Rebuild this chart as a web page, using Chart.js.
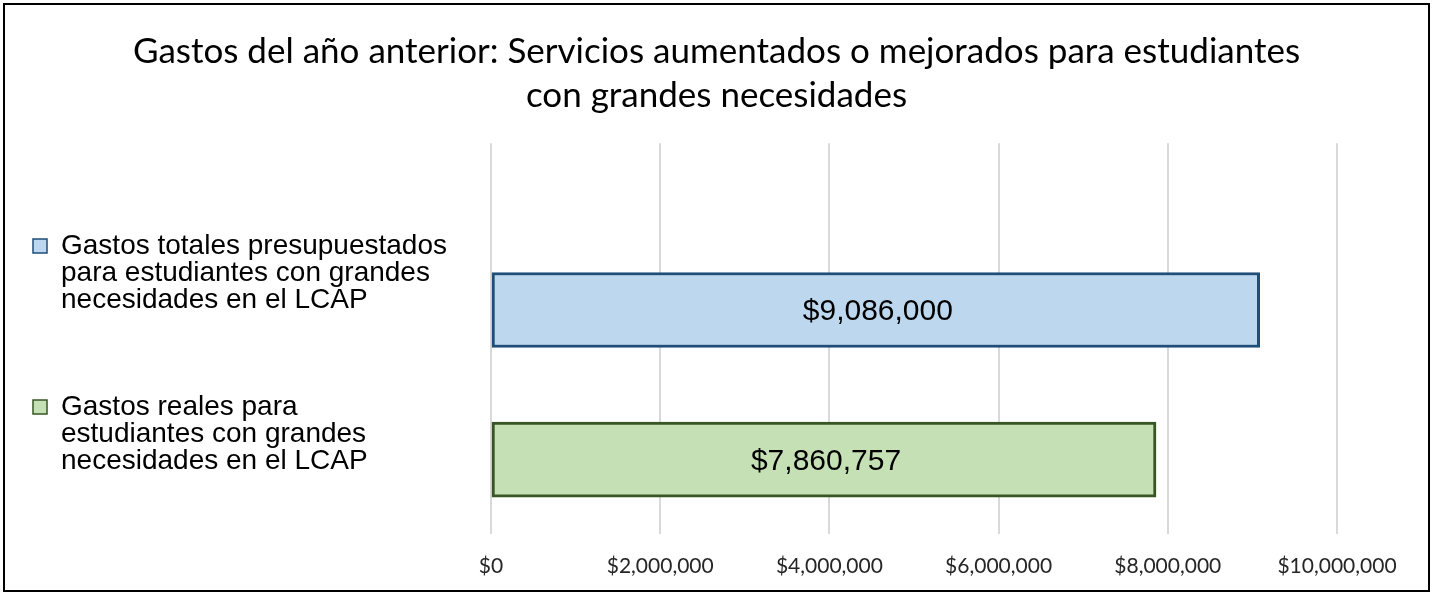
<!DOCTYPE html>
<html>
<head>
<meta charset="utf-8">
<script src="https://cdn.jsdelivr.net/npm/chart.js@4"></script>
<style>
	body { margin: 0; background: #fff; }
	.chart__wrap { position: relative; width: 1433px; height: 595px; }
	.chart__frame {
		position: absolute; left: 3px; top: 3px; width: 1427px; height: 589px;
		border: 2px solid #000; box-sizing: border-box; pointer-events: none;
	}
</style>
</head>
<body>
<div class="chart__wrap">
	<canvas id="gastos__chart"></canvas>
	<div class="chart__frame"></div>
</div>
<script>
// data
const chartTitle = [
	'Gastos del año anterior: Servicios aumentados o mejorados para estudiantes',
	'con grandes necesidades',
];
const seriesNames = [
	['Gastos totales presupuestados', 'para estudiantes con grandes', 'necesidades en el LCAP'],
	['Gastos reales para', 'estudiantes con grandes', 'necesidades en el LCAP'],
];
const seriesValues = [9086000, 7860757];
const xTickValues = [0, 2000000, 4000000, 6000000, 8000000, 10000000];

const fillColors = ['#BDD7EE', '#C5E0B4'];
const lineColors = ['#1F4E79', '#375623'];

const money = v => '$' + Number(v).toLocaleString('en-US');

// value labels inside bars
const barLabels = {
	id: 'barLabels',
	afterDatasetsDraw(chart) {
		const ctx = chart.ctx;
		ctx.save();
		ctx.font = '30px "Liberation Sans", Arial, sans-serif';
		ctx.fillStyle = '#000';
		ctx.textAlign = 'center';
		ctx.textBaseline = 'middle';
		chart.data.datasets.forEach((ds, i) => {
			chart.getDatasetMeta(i).data.forEach((bar, j) => {
				const p = bar.getCenterPoint();
				ctx.fillText(money(ds.data[j].x), p.x + 2, p.y + 2);
			});
		});
		ctx.restore();
	},
};

// axes that only hold space (legend column on the left, margin on the right)
const hiddenAxis = {
	display: true,
	grid: { display: false },
	border: { display: false },
	ticks: { display: false },
};

document.addEventListener('DOMContentLoaded', function () {
	const ctx = document.getElementById('gastos__chart').getContext('2d');

	new Chart(ctx, {
		type: 'bar',
		data: {
			datasets: seriesValues.map((v, i) => ({
				label: seriesNames[i].join(' '),
				data: [{ x: v, y: i + 1 }],
				backgroundColor: fillColors[i],
				borderColor: lineColors[i],
				borderWidth: 3,
				borderSkipped: false,
				barThickness: 75,
				grouped: false,
			})),
		},
		options: {
			indexAxis: 'y',
			responsive: true,
			maintainAspectRatio: false,
			animation: false,
			layout: { padding: { left: -47, right: -47, top: 0, bottom: -4 } },
			plugins: {
				tooltip: { enabled: false },
				title: {
					display: true,
					text: chartTitle,
					color: '#000',
					font: { family: 'Lato', size: 35, weight: 'normal', lineHeight: 1.26 },
					padding: { top: 30, bottom: 25 },
				},
				legend: {
					position: 'left',
					align: 'start',
					maxWidth: 520,
					title: { display: true, text: '', font: { size: 10, lineHeight: 1 }, padding: { top: 142, bottom: 0 } },
					labels: {
						color: '#000',
						font: { family: '"Liberation Sans", Arial, sans-serif', size: 28, lineHeight: 0.965 },
						boxWidth: 14,
						boxHeight: 14,
						padding: 80,
						generateLabels: chart =>
							chart.data.datasets.map((ds, i) => ({
								text: seriesNames[i],
								fillStyle: fillColors[i],
								strokeStyle: lineColors[i],
								fontColor: '#000',
								lineWidth: 1.5,
								datasetIndex: i,
							})),
					},
				},
			},
			scales: {
				x: {
					min: 0,
					max: 10000000,
					afterBuildTicks: s => {
						s.ticks = xTickValues.map(v => ({ value: v }));
					},
					grid: { color: '#d9d9d9', lineWidth: 2, drawTicks: false },
					border: { display: false },
					ticks: {
						color: '#262626',
						padding: 20,
						font: { family: 'Lato', size: 21 },
						callback: v => money(v),
					},
				},
				y: {
					...hiddenAxis,
					type: 'linear',
					reverse: true,
					offset: false,
					min: -0.114,
					max: 2.495,
					afterFit: s => {
						s.width = 491 + 47 - s.chart.legend.width;
					},
				},
				yRight: {
					...hiddenAxis,
					type: 'linear',
					axis: 'y',
					position: 'right',
					afterFit: s => {
						s.width = 1433 + 47 - 1337;
					},
				},
			},
		},
		plugins: [barLabels],
	});
});
</script>
</body>
</html>
